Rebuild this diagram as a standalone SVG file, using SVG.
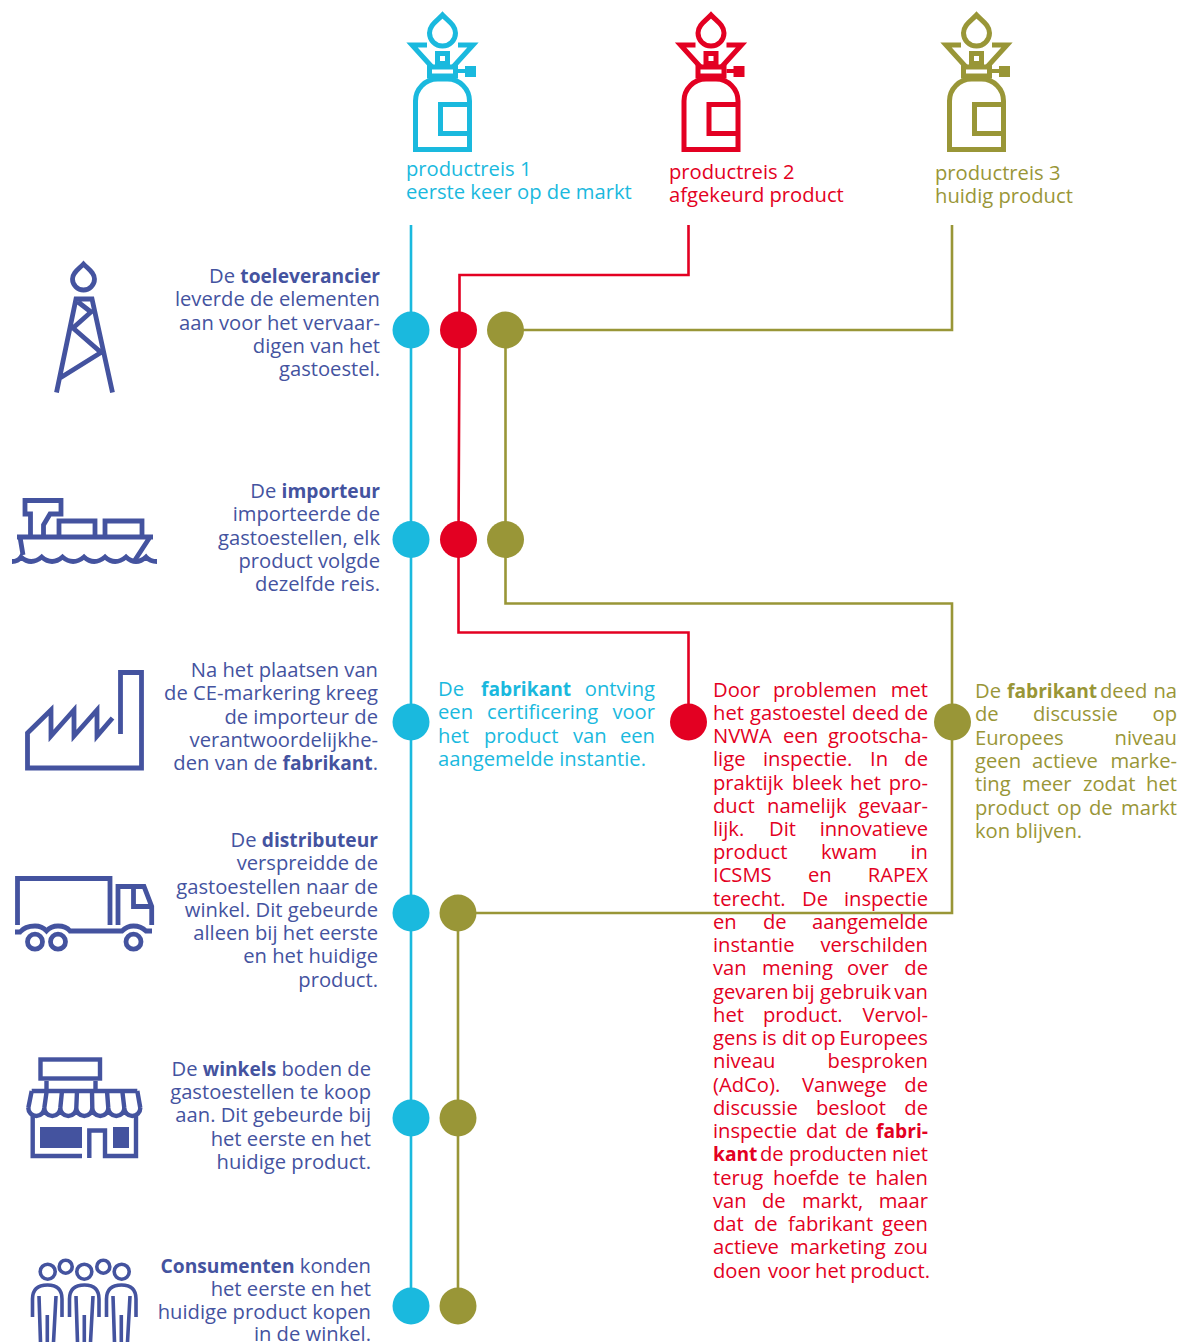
<svg xmlns="http://www.w3.org/2000/svg" width="1181" height="1342" viewBox="0 0 1181 1342">
<style>
text{font-family:"Open Sans","Noto Sans",sans-serif;font-size:20.2px}
.b{font-weight:700;font-size:19.2px}
.e{text-anchor:end}
.nv{fill:#44539f}.bl{fill:#1ab9de}.rd{fill:#e30022}.ol{fill:#999637}
.r text,text.r{text-anchor:end}
.ln{fill:none;stroke-width:2.6}
.ic{fill:none;stroke:#44539f;stroke-width:4.8}
.ict{fill:none;stroke:#44539f;stroke-width:3.6}
</style>
<defs>
<g id="burner" fill="none" stroke="currentColor" stroke-width="5">
<path d="M442.5 15C437 21 429.5 25 429.5 33a13 13 0 0 0 26 0C455.5 25 448 21 442.5 15Z"/>
<path d="M427 45H412L432 67M458 45H473L453 67"/>
<rect x="437.5" y="53.5" width="10" height="10"/>
<rect x="429.5" y="67" width="26" height="9"/>
<path d="M458 71H466" stroke-width="4"/>
<rect x="465" y="66" width="11" height="11" fill="currentColor" stroke="none"/>
<path d="M415.5 149.5V101a22 22 0 0 1 22-22h10a22 22 0 0 1 22 22V149.5Z"/>
<path d="M469.5 104.5H440.5V133.5H469.5"/>
</g>
</defs>
<g id="connectors">
<path class="ln" stroke="#1ab9de" d="M411 225V1306"/>
<path class="ln" stroke="#e30022" d="M688.5 225V275H459.5V330L458.5 539V632.5H688.5V722"/>
<path class="ln" stroke="#999637" d="M952 225V330H505.5V603.5H952V913H458V1306"/>
</g>
<g id="dots-blue" class="bl"><circle cx="411" cy="330" r="18.5"/><circle cx="411" cy="539.500" r="18.5"/><circle cx="411" cy="722" r="18.500"/><circle cx="411" cy="913" r="18.5"/><circle cx="411" cy="1118" r="18.5"/><circle cx="411" cy="1306" r="18.5"/></g>
<g id="dots-red" class="rd"><circle cx="458.500" cy="330" r="18.5"/><circle cx="458.500" cy="539.500" r="18.5"/><circle cx="688.500" cy="722" r="18.5"/></g>
<g id="dots-olive" class="ol"><circle cx="505.500" cy="330" r="18.5"/><circle cx="505.500" cy="539.500" r="18.5"/><circle cx="952.500" cy="722" r="18.5"/><circle cx="458" cy="913" r="18.5"/><circle cx="458" cy="1118" r="18.5"/><circle cx="458" cy="1306" r="18.5"/></g>
<g id="reis1" color="#1ab9de"><use href="#burner"/><text class="bl"><tspan x="406" y="176">productreis 1</tspan><tspan x="406" y="199">eerste keer op de markt</tspan></text></g>
<g id="reis2" color="#e30022"><use href="#burner" x="268.5"/><text class="rd"><tspan x="669" y="179">productreis 2</tspan><tspan x="669" y="202">afgekeurd product</tspan></text></g>
<g id="reis3" color="#999637"><use href="#burner" x="534"/><text class="ol"><tspan x="935" y="180">productreis 3</tspan><tspan x="935" y="203">huidig product</tspan></text></g>
<g id="toeleverancier">
<g class="ic"><path d="M83.500 264C79 269 72.500 272.500 72.500 279a11 11 0 0 0 22 0C94.500 272.500 88 269 83.500 264Z"/><path d="M56.500 392.500L76 299H92L112.500 392.500M78 302L91 312L73 328L101 352.500L60 378"/></g>
<g class="nv r"><text y="283"><tspan x="380">De <tspan class="b">toeleverancier</tspan></tspan></text><text x="380" y="306">leverde de elementen</text><text x="380" y="329.500">aan voor het vervaar-</text><text x="380" y="353">digen van het</text><text x="380" y="376">gastoestel.</text></g>
</g>
<g id="importeur">
<g class="ic"><path d="M30.500 535V514H25V500.500H61V514H50L43.500 525V535M59 537V521H95V537M105 537V521H142V537M17 537H153M20 537L23 555M150 537L135 560"/><path d="M12 561.500Q18 561.500 21 557Q31 566 41.700 557Q52 566 62.500 557Q73 566 84 557Q94 566 105 557Q115 566 126 557Q136 566 146 557Q150 561.500 157 561.500"/></g>
<g class="nv r"><text x="380" y="498">De <tspan class="b">importeur</tspan></text><text x="380" y="521">importeerde de</text><text x="380" y="545">gastoestellen, elk</text><text x="380" y="568">product volgde</text><text x="380" y="591">dezelfde reis.</text></g>
</g>
<g id="fabrikant">
<path class="ic" d="M120.500 734V672.500H141.500V768H27.500V733L51 710V736L74 710V736L97 710V736L112.500 718"/>
<g class="nv r"><text x="378" y="677">Na het plaatsen van</text><text x="378" y="700">de CE-markering kreeg</text><text x="378" y="724">de importeur de</text><text x="378" y="747">verantwoordelijkhe-</text><text x="378" y="770">den van de <tspan class="b">fabrikant</tspan>.</text></g>
</g>
<g id="distributeur">
<g class="ic"><path d="M17.500 925V878.500H110V925M118 925V886.500H144L151.700 906.500V925M133.500 886.500V906.500H151.700"/><path d="M15 932H20Q25 926 35 926Q42 926 46.500 931Q51 926 58 926Q66 926 70 931H122Q127 926 133.500 926Q141 926 146 931H152"/><circle cx="35" cy="941.700" r="7.500"/><circle cx="58" cy="941.700" r="7.500"/><circle cx="133.500" cy="941.700" r="7.500"/></g>
<g class="nv r"><text x="378" y="847">De <tspan class="b">distributeur</tspan></text><text x="378" y="870">verspreidde de</text><text x="378" y="894">gastoestellen naar de</text><text x="378" y="917">winkel. Dit gebeurde</text><text x="378" y="940">alleen bij het eerste</text><text x="378" y="963">en het huidige</text><text x="378" y="987">product.</text></g>
</g>
<g id="winkels">
<g class="ic" style="stroke-width:4.4"><rect x="40.500" y="1059.500" width="59.500" height="19"/><path d="M46.500 1081V1090M95.500 1081V1090M31.700 1091H137.300M31.700 1091L28.300 1108M46.700 1091L44.300 1108M62 1091L60.300 1108M77 1091L76.300 1108M92 1091L92.300 1108M107 1091L108.300 1108M122.300 1091L124.300 1108M137.300 1091L140.300 1108"/><path d="M28.300 1108a8 8 0 0 0 16 0a8 8 0 0 0 16 0a8 8 0 0 0 16 0a8 8 0 0 0 16 0a8 8 0 0 0 16 0a8 8 0 0 0 16 0a8 8 0 0 0 16 0"/><path d="M32.700 1116V1156H82M89.300 1158V1130.500H105V1156H136V1116"/></g>
<path class="nv" d="M40 1127H82V1148H40ZM113 1127H129V1148H113Z"/>
<g class="nv r"><text x="371" y="1076">De <tspan class="b">winkels</tspan> boden de</text><text x="371" y="1099">gastoestellen te koop</text><text x="371" y="1122">aan. Dit gebeurde bij</text><text x="371" y="1146">het eerste en het</text><text x="371" y="1169">huidige product.</text></g>
</g>
<g id="consumenten">
<g class="ict"><circle cx="47.700" cy="1271.700" r="7.500"/><circle cx="84.300" cy="1271.700" r="7.500"/><circle cx="121.700" cy="1271.700" r="7.500"/><circle cx="65.700" cy="1266.700" r="6.500"/><circle cx="103.300" cy="1266.700" r="6.500"/>
<path d="M32.500 1317V1299Q32.500 1285 47.500 1285Q62 1285 62 1299V1317M39 1296L40.500 1342M56 1296L53.500 1342M47.300 1315V1342"/><path d="M69.500 1317V1299Q69.500 1285 84.500 1285Q99 1285 99 1299V1317M76 1296L77.500 1342M93 1296L90.500 1342M84.300 1315V1342"/><path d="M106.500 1317V1299Q106.500 1285 121.500 1285Q136 1285 136 1299V1317M113 1296L114.500 1342M130 1296L127.500 1342M121.300 1315V1342"/></g>
<g class="nv r"><text x="371" y="1273"><tspan class="b">Consumenten</tspan> konden</text><text x="371" y="1296">het eerste en het</text><text x="371" y="1319">huidige product kopen</text><text x="371" y="1341">in de winkel.</text></g>
</g>
<g id="tekst-blauw" class="bl">
<text y="696"><tspan x="438">De</tspan><tspan x="481" class="b">fabrikant</tspan><tspan x="655" class="e">ontving</tspan></text>
<text y="719"><tspan x="438">een</tspan><tspan x="487">certificering</tspan><tspan x="655" class="e">voor</tspan></text>
<text y="743"><tspan x="438">het</tspan><tspan x="484">product</tspan><tspan x="573">van</tspan><tspan x="655" class="e">een</tspan></text>
<text x="438" y="766">aangemelde instantie.</text>
</g>
<g id="tekst-rood" class="rd">
<text y="697"><tspan x="713">Door</tspan><tspan x="773">problemen</tspan><tspan x="928" class="e">met</tspan></text>
<text y="720"><tspan x="713">het</tspan><tspan x="750">gastoestel</tspan><tspan x="852">deed</tspan><tspan x="928" class="e">de</tspan></text>
<text y="743"><tspan x="713">NVWA</tspan><tspan x="783">een</tspan><tspan x="928" class="e">grootscha-</tspan></text>
<text y="766"><tspan x="713">lige</tspan><tspan x="763">inspectie.</tspan><tspan x="870">In</tspan><tspan x="928" class="e">de</tspan></text>
<text y="790"><tspan x="713">praktijk</tspan><tspan x="792">bleek</tspan><tspan x="850">het</tspan><tspan x="928" class="e">pro-</tspan></text>
<text y="813"><tspan x="713">duct</tspan><tspan x="767">namelijk</tspan><tspan x="928" class="e">gevaar-</tspan></text>
<text y="836"><tspan x="713">lijk.</tspan><tspan x="769">Dit</tspan><tspan x="928" class="e">innovatieve</tspan></text>
<text y="859"><tspan x="713">product</tspan><tspan x="821">kwam</tspan><tspan x="928" class="e">in</tspan></text>
<text y="882"><tspan x="713">ICSMS</tspan><tspan x="808">en</tspan><tspan x="928" class="e">RAPEX</tspan></text>
<text y="906"><tspan x="713">terecht.</tspan><tspan x="802">De</tspan><tspan x="928" class="e">inspectie</tspan></text>
<text y="929"><tspan x="713">en</tspan><tspan x="763">de</tspan><tspan x="928" class="e">aangemelde</tspan></text>
<text y="952"><tspan x="713">instantie</tspan><tspan x="928" class="e">verschilden</tspan></text>
<text y="975"><tspan x="713">van</tspan><tspan x="762">mening</tspan><tspan x="847">over</tspan><tspan x="928" class="e">de</tspan></text>
<text y="999"><tspan x="713">gevaren</tspan><tspan x="792">bij</tspan><tspan x="820">gebruik</tspan><tspan x="928" class="e">van</tspan></text>
<text y="1022"><tspan x="713">het</tspan><tspan x="763">product.</tspan><tspan x="928" class="e">Vervol-</tspan></text>
<text y="1045"><tspan x="713">gens</tspan><tspan x="762">is</tspan><tspan x="782">dit</tspan><tspan x="811">op</tspan><tspan x="928" class="e">Europees</tspan></text>
<text y="1068"><tspan x="713">niveau</tspan><tspan x="928" class="e">besproken</tspan></text>
<text y="1092"><tspan x="713">(AdCo).</tspan><tspan x="802">Vanwege</tspan><tspan x="928" class="e">de</tspan></text>
<text y="1115"><tspan x="713">discussie</tspan><tspan x="816">besloot</tspan><tspan x="928" class="e">de</tspan></text>
<text y="1138"><tspan x="713">inspectie</tspan><tspan x="806">dat</tspan><tspan x="845">de</tspan><tspan x="928" class="e b">fabri-</tspan></text>
<text y="1161"><tspan x="713" class="b">kant</tspan><tspan x="760">de</tspan><tspan x="789">producten</tspan><tspan x="928" class="e">niet</tspan></text>
<text y="1185"><tspan x="713">terug</tspan><tspan x="773">hoefde</tspan><tspan x="848">te</tspan><tspan x="928" class="e">halen</tspan></text>
<text y="1208"><tspan x="713">van</tspan><tspan x="762">de</tspan><tspan x="802">markt,</tspan><tspan x="928" class="e">maar</tspan></text>
<text y="1231"><tspan x="713">dat</tspan><tspan x="754">de</tspan><tspan x="788">fabrikant</tspan><tspan x="928" class="e">geen</tspan></text>
<text y="1254"><tspan x="713">actieve</tspan><tspan x="790">marketing</tspan><tspan x="928" class="e">zou</tspan></text>
<text y="1278"><tspan x="713">doen</tspan><tspan x="768">voor</tspan><tspan x="815">het</tspan><tspan x="930" class="e">product.</tspan></text>
</g>
<g id="tekst-olijf" class="ol">
<text y="698"><tspan x="975">De</tspan><tspan x="1007" class="b">fabrikant</tspan><tspan x="1100">deed</tspan><tspan x="1177" class="e">na</tspan></text>
<text y="721"><tspan x="975">de</tspan><tspan x="1033">discussie</tspan><tspan x="1177" class="e">op</tspan></text>
<text y="745"><tspan x="975">Europees</tspan><tspan x="1177" class="e">niveau</tspan></text>
<text y="768"><tspan x="975">geen</tspan><tspan x="1032">actieve</tspan><tspan x="1177" class="e">marke-</tspan></text>
<text y="791"><tspan x="975">ting</tspan><tspan x="1022">meer</tspan><tspan x="1083">zodat</tspan><tspan x="1177" class="e">het</tspan></text>
<text y="815"><tspan x="975">product</tspan><tspan x="1057">op</tspan><tspan x="1089">de</tspan><tspan x="1177" class="e">markt</tspan></text>
<text x="975" y="838">kon blijven.</text>
</g>
</svg>
